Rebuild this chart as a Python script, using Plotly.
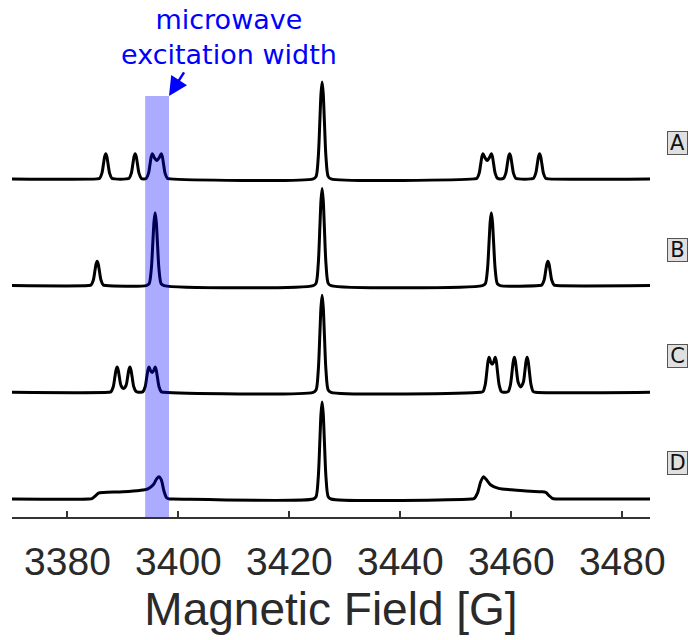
import plotly.graph_objects as go

# ---------------- data ----------------
x_range = [3370, 3485]
tick_vals = [3380, 3400, 3420, 3440, 3460, 3480]
tick_text = ["3380", "3400", "3420", "3440", "3460", "3480"]
labels = ["A", "B", "C", "D"]

center_peak = [(3424.3, 0), (3424.8, 0.023), (3425.2, 0.22), (3425.5, 0.61), (3425.7, 0.88),
               (3425.9, 1.0), (3426.1, 0.88), (3426.3, 0.61), (3426.6, 0.22), (3427.0, 0.023),
               (3427.5, 0)]

spec_a = ([(3370, 0),
           (3385.3, 0), (3385.8, 0.006), (3386.2, 0.057), (3386.5, 0.159), (3386.7, 0.229),
           (3386.9, 0.26), (3387.1, 0.229), (3387.3, 0.159), (3387.6, 0.057), (3388.0, 0.006), (3388.5, 0),
           (3390.6, 0), (3391.1, 0.006), (3391.5, 0.057), (3391.8, 0.159), (3392.0, 0.229),
           (3392.2, 0.26), (3392.4, 0.229), (3392.6, 0.159), (3392.9, 0.057), (3393.3, 0.006),
           (3393.7, 0), (3394.2, 0.006), (3394.6, 0.057), (3394.9, 0.159), (3395.1, 0.229),
           (3395.3, 0.26), (3395.6, 0.225), (3396.1, 0.19), (3396.6, 0.225), (3396.9, 0.26),
           (3397.1, 0.229), (3397.3, 0.159), (3397.6, 0.057), (3398.0, 0.006), (3398.5, 0)]
          + center_peak +
          [(3453.3, 0), (3453.8, 0.006), (3454.2, 0.057), (3454.5, 0.159), (3454.7, 0.229),
           (3454.9, 0.26), (3455.2, 0.225), (3455.65, 0.19), (3456.1, 0.225), (3456.4, 0.26),
           (3456.6, 0.229), (3456.8, 0.159), (3457.1, 0.057), (3457.5, 0.006), (3458.05, 0),
           (3458.6, 0.006), (3459.0, 0.057), (3459.3, 0.159), (3459.5, 0.229), (3459.7, 0.26),
           (3459.9, 0.229), (3460.1, 0.159), (3460.4, 0.057), (3460.8, 0.006), (3461.3, 0),
           (3463.5, 0), (3464.0, 0.006), (3464.4, 0.057), (3464.7, 0.159), (3464.9, 0.229),
           (3465.1, 0.26), (3465.3, 0.229), (3465.5, 0.159), (3465.8, 0.057), (3466.2, 0.006),
           (3466.7, 0), (3485, 0)])

spec_b = ([(3370, 0),
           (3383.75, 0), (3384.25, 0.006), (3384.65, 0.055), (3384.95, 0.153), (3385.15, 0.22),
           (3385.35, 0.25), (3385.55, 0.22), (3385.75, 0.153), (3386.05, 0.055), (3386.45, 0.006), (3386.95, 0),
           (3394.2, 0), (3394.7, 0.017), (3395.1, 0.165), (3395.4, 0.458), (3395.6, 0.66),
           (3395.8, 0.75), (3396.0, 0.66), (3396.2, 0.458), (3396.5, 0.165), (3396.9, 0.017), (3397.4, 0)]
          + center_peak +
          [(3454.8, 0), (3455.3, 0.017), (3455.7, 0.165), (3456.0, 0.458), (3456.2, 0.66),
           (3456.4, 0.75), (3456.6, 0.66), (3456.8, 0.458), (3457.1, 0.165), (3457.5, 0.017), (3458.0, 0),
           (3465.0, 0), (3465.5, 0.006), (3465.9, 0.055), (3466.2, 0.153), (3466.4, 0.22),
           (3466.6, 0.25), (3466.8, 0.22), (3467.0, 0.153), (3467.3, 0.055), (3467.7, 0.006),
           (3468.2, 0), (3485, 0)])

spec_c = ([(3370, 0),
           (3387.35, 0), (3387.85, 0.006), (3388.25, 0.057), (3388.55, 0.159), (3388.75, 0.229),
           (3388.95, 0.26), (3389.15, 0.229), (3389.35, 0.159), (3389.65, 0.07), (3390.1, 0.04),
           (3390.55, 0.07), (3390.85, 0.159), (3391.05, 0.229), (3391.25, 0.26), (3391.45, 0.229),
           (3391.65, 0.159), (3391.95, 0.057), (3392.35, 0.01), (3392.8, 0),
           (3393.1, 0), (3393.6, 0.006), (3394.0, 0.057), (3394.3, 0.159), (3394.5, 0.229),
           (3394.7, 0.26), (3394.95, 0.225), (3395.25, 0.205), (3395.55, 0.225), (3395.8, 0.26),
           (3396.0, 0.229), (3396.2, 0.159), (3396.5, 0.057), (3396.9, 0.006), (3397.4, 0)]
          + center_peak +
          [(3454.4, 0), (3454.9, 0.008), (3455.3, 0.079), (3455.6, 0.22), (3455.8, 0.317),
           (3456.0, 0.36), (3456.3, 0.31), (3456.55, 0.29), (3456.8, 0.31), (3457.1, 0.36),
           (3457.3, 0.317), (3457.5, 0.22), (3457.8, 0.079), (3458.2, 0.008), (3458.6, 0),
           (3458.95, 0), (3459.45, 0.008), (3459.85, 0.079), (3460.15, 0.22), (3460.35, 0.317),
           (3460.55, 0.36), (3460.75, 0.317), (3460.95, 0.22), (3461.25, 0.1), (3461.7, 0.055),
           (3462.15, 0.1), (3462.45, 0.22), (3462.65, 0.317), (3462.85, 0.36), (3463.05, 0.317),
           (3463.25, 0.22), (3463.55, 0.079), (3463.95, 0.008), (3464.45, 0), (3485, 0)])

spec_d = ([(3370, 0), (3383.8, 0), (3384.4, 0.004), (3385.0, 0.03), (3385.6, 0.06), (3386.5, 0.068),
           (3390.0, 0.075), (3393.0, 0.088), (3394.5, 0.105), (3395.5, 0.15), (3396.1, 0.21),
           (3396.5, 0.23), (3396.9, 0.2), (3397.4, 0.08), (3397.9, 0.01), (3398.4, 0), (3399.0, 0)]
          + center_peak +
          [(3452.8, 0), (3453.3, 0.004), (3453.9, 0.06), (3454.5, 0.18), (3455.0, 0.23),
           (3455.5, 0.2), (3456.3, 0.145), (3457.7, 0.11), (3460.0, 0.095), (3462.2, 0.085),
           (3465.3, 0.075), (3466.2, 0.068), (3466.8, 0.035), (3467.4, 0.006), (3468.0, 0),
           (3468.6, 0), (3485, 0)])

excitation_band = [3394.0, 3398.3]
band_top = 4.155
annotation_text = "microwave<br>excitation width"
axis_title = "Magnetic Field [G]"

# ---------------- layout constants ----------------
offsets = [3.3, 2.2, 1.1, 0.0]
y_range = [-0.1856, 5.041]

fig = go.Figure()
for spec, off in zip([spec_a, spec_b, spec_c, spec_d], offsets):
    fig.add_trace(go.Scatter(
        x=[p[0] for p in spec], y=[p[1] + off for p in spec], mode="lines",
        line=dict(color="black", width=3, shape="spline", smoothing=0.8),
        showlegend=False, hoverinfo="skip"))

fig.add_shape(type="rect", xref="x", yref="y",
              x0=excitation_band[0], x1=excitation_band[1],
              y0=y_range[0], y1=band_top,
              fillcolor="rgba(0,0,255,0.33)", line=dict(width=0), layer="above")

fig.add_annotation(x=3409.1, y=4.76, xref="x", yref="y", text=annotation_text,
                   showarrow=False, font=dict(family="DejaVu Sans", size=27, color="#0000ff"),
                   align="center", xanchor="center", yanchor="middle")
fig.add_annotation(x=excitation_band[1], y=band_top, xref="x", yref="y", text="",
                   showarrow=True, arrowhead=2, arrowsize=1.5, arrowwidth=2.5,
                   arrowcolor="#0000ff", ax=16, ay=-25, standoff=0)

for lab, off in zip(labels, offsets):
    fig.add_annotation(x=1.043, xref="paper", y=off + 0.37, yref="y", text=lab,
                       showarrow=False, font=dict(family="DejaVu Sans", size=21, color="#111"),
                       bgcolor="#e0e0e0", bordercolor="#555", borderwidth=1, borderpad=1,
                       width=17, height=20,
                       xanchor="center", yanchor="middle")

fig.update_layout(
    width=688, height=640,
    margin=dict(l=12, r=38, t=10, b=123),
    paper_bgcolor="white", plot_bgcolor="white",
    xaxis=dict(range=x_range, tickvals=tick_vals, ticktext=tick_text,
               showgrid=False, zeroline=False, showline=True, linecolor="#333", linewidth=2,
               ticks="inside", ticklen=6, tickwidth=2, tickcolor="#333",
               ticklabelstandoff=9,
               tickfont=dict(family="Liberation Sans", size=39, color="#2a2a2a"),
               title=dict(text=axis_title,
                          font=dict(family="Liberation Sans", size=46, color="#2a2a2a"),
                          standoff=4)),
    yaxis=dict(range=y_range, visible=False, showgrid=False, zeroline=False),
)

fig.write_html("out.html")
